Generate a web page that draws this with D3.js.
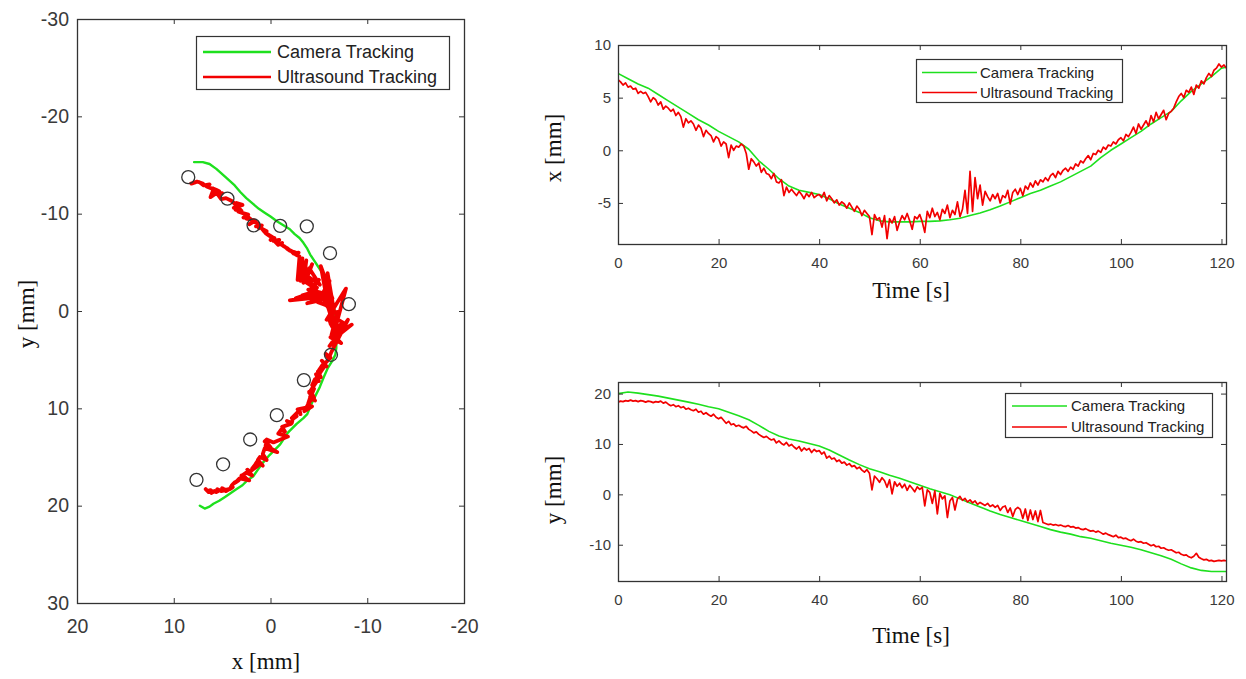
<!DOCTYPE html>
<html>
<head>
<meta charset="utf-8">
<script src="https://cdn.jsdelivr.net/npm/d3@7"></script>
<style>
  body { margin: 0; background: #fff; }
  svg { display: block; }
</style>
</head>
<body>
<svg id="chart" width="1246" height="679"></svg>
<script>
// sample times [s]
const camTime = [0, 2, 4, 6, 8, 10, 12, 14, 16, 18,
  20, 22, 24, 26, 28, 30, 32, 34, 36, 38,
  40, 42, 44, 46, 48, 50, 52, 54, 56, 58,
  60, 62, 64, 66, 68, 70, 72, 74, 76, 78,
  80, 82, 84, 86, 88, 90, 92, 94, 96, 98,
  100, 102, 104, 106, 108, 110, 112, 114, 116, 118,
  120, 121];
const usTime = [0, 0.5, 1, 1.5, 2, 2.5, 3, 3.5, 4, 4.5,
  5, 5.5, 6, 6.5, 7, 7.5, 8, 8.5, 9, 9.5,
  10, 10.5, 11, 11.5, 12, 12.5, 13, 13.5, 14, 14.5,
  15, 15.5, 16, 16.5, 17, 17.5, 18, 18.5, 19, 19.5,
  20, 20.5, 21, 21.5, 22, 22.5, 23, 23.5, 24, 24.5,
  25, 25.5, 26, 26.5, 27, 27.5, 28, 28.5, 29, 29.5,
  30, 30.5, 31, 31.5, 32, 32.5, 33, 33.5, 34, 34.5,
  35, 35.5, 36, 36.5, 37, 37.5, 38, 38.5, 39, 39.5,
  40, 40.5, 41, 41.5, 42, 42.5, 43, 43.5, 44, 44.5,
  45, 45.5, 46, 46.5, 47, 47.5, 48, 48.5, 49, 49.5,
  50, 50.5, 51, 51.5, 52, 52.5, 53, 53.5, 54, 54.5,
  55, 55.5, 56, 56.5, 57, 57.5, 58, 58.5, 59, 59.5,
  60, 60.5, 61, 61.5, 62, 62.5, 63, 63.5, 64, 64.5,
  65, 65.5, 66, 66.5, 67, 67.5, 68, 68.5, 69, 69.5,
  70, 70.5, 71, 71.5, 72, 72.5, 73, 73.5, 74, 74.5,
  75, 75.5, 76, 76.5, 77, 77.5, 78, 78.5, 79, 79.5,
  80, 80.5, 81, 81.5, 82, 82.5, 83, 83.5, 84, 84.5,
  85, 85.5, 86, 86.5, 87, 87.5, 88, 88.5, 89, 89.5,
  90, 90.5, 91, 91.5, 92, 92.5, 93, 93.5, 94, 94.5,
  95, 95.5, 96, 96.5, 97, 97.5, 98, 98.5, 99, 99.5,
  100, 100.5, 101, 101.5, 102, 102.5, 103, 103.5, 104, 104.5,
  105, 105.5, 106, 106.5, 107, 107.5, 108, 108.5, 109, 109.5,
  110, 110.5, 111, 111.5, 112, 112.5, 113, 113.5, 114, 114.5,
  115, 115.5, 116, 116.5, 117, 117.5, 118, 118.5, 119, 119.5,
  120, 120.5, 121];

// camera tracking [mm]
const camX = [7.3, 6.8, 6.3, 5.9, 5.3, 4.7, 4.1, 3.5, 2.9, 2.4,
  1.8, 1.3, 0.8, 0.1, -1.0, -1.8, -2.7, -3.4, -3.8, -4.0,
  -4.2, -4.6, -5.1, -5.5, -5.9, -6.4, -6.7, -6.8, -6.8, -6.8,
  -6.75, -6.75, -6.7, -6.6, -6.45, -6.2, -5.95, -5.65, -5.3, -4.9,
  -4.5, -4.1, -3.8, -3.4, -3.0, -2.5, -2.0, -1.5, -0.7, 0.0,
  0.6, 1.2, 1.8, 2.5, 3.1, 3.7, 4.7, 5.6, 6.3, 7.0,
  7.8, 7.9];
const camY = [20.0, 20.3, 20.1, 19.8, 19.5, 19.1, 18.7, 18.3, 17.9, 17.4,
  17.0, 16.3, 15.6, 14.8, 13.7, 12.5, 11.6, 11.0, 10.6, 10.1,
  9.6, 8.8, 7.8, 6.8, 5.9, 5.1, 4.5, 3.8, 3.2, 2.5,
  1.8, 1.1, 0.5, -0.1, -0.9, -1.7, -2.5, -3.3, -4.0, -4.6,
  -5.2, -5.8, -6.4, -7.0, -7.5, -7.9, -8.4, -8.7, -9.2, -9.7,
  -10.1, -10.5, -11.0, -11.6, -12.2, -12.9, -13.8, -14.6, -15.1, -15.3,
  -15.3, -15.3];

// ultrasound tracking [mm]
const usX = [6.7, 6.5, 6.2, 6.4, 6.0, 6.1, 5.8, 5.9, 5.4, 5.6,
  5.4, 5.5, 5.1, 4.6, 5.0, 4.8, 4.3, 4.6, 3.9, 4.2,
  4.0, 3.7, 3.9, 3.3, 3.6, 3.2, 2.2, 3.0, 2.6, 2.8,
  2.5, 1.9, 2.4, 2.1, 1.3, 1.9, 1.6, 1.4, 0.8, 1.3,
  1.1, 0.4, 0.8, 0.6, -0.7, 0.5, 0.0, 0.4, 0.3, 0.6,
  0.4, -0.3, -1.8, -0.8, -1.1, -1.5, -1.2, -2.1, -1.7, -2.2,
  -2.3, -2.7, -2.2, -3.0, -3.1, -2.8, -4.3, -3.5, -4.0, -3.7,
  -4.0, -4.3, -3.9, -4.2, -4.6, -4.1, -4.4, -4.0, -4.5, -4.3,
  -4.2, -4.5, -4.0, -4.8, -4.3, -4.6, -5.0, -4.7, -5.2, -4.9,
  -5.1, -5.5, -5.0, -5.4, -5.8, -5.3, -5.6, -6.2, -5.7, -6.0,
  -6.3, -8.0, -6.1, -6.6, -6.4, -7.3, -6.2, -8.4, -6.5, -6.9,
  -6.3, -7.6, -6.8, -6.2, -6.6, -6.0, -6.7, -7.5, -6.3, -6.5,
  -6.1, -6.8, -7.8, -5.8, -6.4, -5.5, -6.3, -5.9, -6.6, -5.6,
  -6.0, -5.2, -6.4, -5.7, -6.1, -4.9, -6.3, -5.6, -3.8, -6.0,
  -2.0, -5.8, -2.6, -4.6, -3.3, -5.2, -3.9, -4.4, -4.8, -4.2,
  -4.6, -4.1, -5.0, -4.3, -4.5, -3.8, -5.1, -4.0, -3.7, -4.2,
  -3.6, -4.3, -3.4, -3.7, -3.1, -3.5, -2.9, -3.3, -2.8, -3.0,
  -2.6, -2.9, -2.4, -2.2, -2.6, -2.0, -2.3, -1.9, -1.7, -2.0,
  -1.6, -1.8, -1.3, -1.5, -1.0, -1.2, -0.8, -0.5, -0.9, -0.3,
  -0.4, 0.0, -0.2, 0.3, 0.1, 0.5, 0.4, 0.8, 0.6, 1.0,
  1.2, 0.9, 1.5, 1.3, 1.7, 2.2, 1.6, 2.5, 2.0, 2.4,
  2.8, 2.3, 3.3, 2.7, 3.6, 3.0, 3.4, 3.8, 2.9, 3.5,
  3.7, 4.0, 4.6, 5.1, 5.4, 5.0, 5.7, 5.5, 6.0, 5.3,
  6.2, 5.9, 6.6, 6.3, 6.9, 7.3, 7.0, 7.6, 7.8, 8.2,
  7.9, 8.1, 7.8];
const usY = [18.3, 18.5, 18.4, 18.6, 18.5, 18.7, 18.5, 18.6, 18.4, 18.6,
  18.5, 18.3, 18.5, 18.4, 18.2, 18.4, 18.3, 18.5, 18.1, 18.3,
  17.9, 17.6, 17.8, 17.4, 17.6, 17.2, 17.4, 16.9, 17.1, 16.8,
  16.6, 16.9, 16.3, 16.5, 15.9, 16.2, 15.8, 15.5, 15.9, 15.3,
  15.0, 15.3, 14.7, 14.1, 14.5, 13.8, 14.0, 13.5, 13.7, 13.4,
  13.2, 13.5, 12.9, 12.6, 12.2, 12.4, 11.9, 11.6, 11.3, 11.5,
  11.1, 10.8, 11.0, 10.2, 10.6, 10.1, 9.8, 10.3, 9.6, 9.9,
  9.4, 9.0, 9.5, 8.6, 9.2, 8.8, 9.1, 8.3, 8.9, 8.5,
  8.7, 8.0, 8.4, 7.2, 7.6, 7.0, 7.2, 6.5, 6.8, 6.2,
  6.4, 5.8, 6.1, 5.5, 5.7, 5.1, 5.4, 4.8, 4.4, 4.9,
  4.2, 0.9, 3.6, 3.1, 2.4, 3.3, 2.7, 1.4, 2.9, 0.1,
  2.5, 1.6, 2.2, 1.3, 2.0, 0.8, 1.8, 1.2, 0.5, 1.5,
  1.0, 1.4, -2.3, 0.9, 0.4, -1.8, 0.7, -3.9, 0.2, -0.9,
  -0.3, -4.6, -1.3, -0.6, -3.1, -0.9, -0.4, -1.2, -0.8, -1.5,
  -1.1, -1.7, -1.3, -2.0, -1.6, -1.9, -2.2, -1.8, -2.4, -2.1,
  -2.6, -2.2, -3.2, -2.5, -2.3, -3.6, -2.7, -4.4, -3.0, -2.6,
  -3.0, -4.8, -2.9, -5.2, -3.1, -5.0, -3.3, -5.4, -3.2, -5.6,
  -5.8, -6.0, -5.9, -6.1, -6.0, -6.2, -6.1, -6.3, -6.4, -6.2,
  -6.5, -6.4, -6.7, -6.6, -6.9, -7.0, -6.8, -7.1, -7.3, -7.2,
  -7.5, -7.3, -7.6, -7.9, -7.7, -8.0, -8.2, -8.4, -8.1, -8.6,
  -8.5, -8.8, -8.7, -9.0, -9.2, -8.9, -9.3, -9.5, -9.4, -9.7,
  -9.6, -9.9, -10.2, -10.0, -10.4, -10.3, -10.7, -10.6, -10.9, -11.1,
  -11.0, -11.3, -11.6, -11.5, -11.9, -12.1, -12.0, -12.4, -12.6, -12.3,
  -11.7, -12.5, -12.8, -13.0, -12.9, -13.2, -13.1, -13.3, -13.2, -13.1,
  -13.2, -13.1, -13.2];

// target markers on the x-y map [mm]
const targetX = [8.5, 4.45, 1.75, -1.0, -3.75, -6.15, -8.1, -6.25, -3.45, -0.65, 2.1, 4.9, 7.65];
const targetY = [-13.75, -11.55, -8.8, -8.75, -8.7, -5.95, -0.7, 4.5, 7.1, 10.7, 13.2, 15.75, 17.35];

const legendLabels = ["Camera Tracking", "Ultrasound Tracking"];
const mapXTicks = [20, 10, 0, -10, -20];
const mapYTicks = [-30, -20, -10, 0, 10, 20, 30];
const timeTicks = [0, 20, 40, 60, 80, 100, 120];
const xTimeTicks = [-5, 0, 5, 10];
const yTimeTicks = [-10, 0, 10, 20];

const GREEN = "#1ee01e", RED = "#f20000", AXIS = "#333";
const SANS = "'Liberation Sans', Arial, sans-serif";
const SERIF = "'Liberation Serif', 'Times New Roman', serif";

const svg = d3.select("#chart");
svg.append("rect").attr("width", 1246).attr("height", 679).attr("fill", "#fff");

// box with inward ticks on all four sides, labels on bottom and left
function drawAxes(x, y, xTicks, yTicks, font, padBottom, padLeft) {
    const [left, right] = d3.extent(x.range());
    const [top, bottom] = d3.extent(y.range());
    const g = svg.append("g");
    const axes = [
        [d3.axisBottom(x).tickValues(xTicks), "translate(0," + bottom + ")", true, padBottom],
        [d3.axisTop(x).tickValues(xTicks), "translate(0," + top + ")", false, 0],
        [d3.axisLeft(y).tickValues(yTicks), "translate(" + left + ",0)", true, padLeft],
        [d3.axisRight(y).tickValues(yTicks), "translate(" + right + ",0)", false, 0]
    ];
    axes.forEach(([ax, tr, labels, pad]) => {
        ax.tickSizeInner(-5).tickSizeOuter(0).tickPadding(pad)
            .tickFormat(labels ? (d => String(d)) : (() => ""));
        const a = g.append("g").attr("transform", tr).call(ax);
        a.select(".domain").remove();
        a.attr("font-size", font).attr("font-family", SANS).style("color", AXIS);
        a.selectAll("text").attr("fill", "#3a3a3a");
    });
    g.append("rect")
        .attr("x", left + 0.5).attr("y", top + 0.5)
        .attr("width", right - left).attr("height", bottom - top)
        .attr("fill", "none").attr("stroke", AXIS).attr("stroke-width", 1.3);
    return g;
}

function clip(id, x, y) {
    const [left, right] = d3.extent(x.range());
    const [top, bottom] = d3.extent(y.range());
    svg.append("clipPath").attr("id", id).append("rect")
        .attr("x", left).attr("y", top).attr("width", right - left).attr("height", bottom - top);
    return svg.append("g").attr("clip-path", "url(#" + id + ")");
}

function drawLegend(bx, by, bw, bh, lx0, lx1, tx, rows, font, lw) {
    const g = svg.append("g");
    g.append("rect").attr("x", bx + 0.5).attr("y", by + 0.5).attr("width", bw).attr("height", bh)
        .attr("fill", "#fff").attr("stroke", AXIS).attr("stroke-width", 1.2);
    legendLabels.forEach((lab, i) => {
        g.append("line").attr("x1", lx0).attr("x2", lx1).attr("y1", rows[i]).attr("y2", rows[i])
            .attr("stroke", [GREEN, RED][i]).attr("stroke-width", lw);
        g.append("text").attr("x", tx).attr("y", rows[i]).attr("dy", "0.36em")
            .attr("font-family", SANS).attr("font-size", font).attr("fill", "#222").text(lab);
    });
}

function label(text, x, y, rotate) {
    svg.append("text")
        .attr("transform", "translate(" + x + "," + y + ")" + (rotate ? " rotate(-90)" : ""))
        .attr("text-anchor", "middle").attr("dy", rotate ? "0.35em" : 0)
        .attr("font-family", SERIF).attr("font-size", 23).attr("fill", "#111")
        .text(text);
}

function path(g, xs, ys, sx, sy, color, width) {
    g.append("path").datum(d3.zip(xs, ys))
        .attr("fill", "none").attr("stroke", color).attr("stroke-width", width)
        .attr("stroke-linejoin", "round").attr("stroke-linecap", "round")
        .attr("d", d3.line().x(d => sx(d[0])).y(d => sy(d[1])));
}

// ---- left: x-y map ----
const mx = d3.scaleLinear().domain([20, -20]).range([77, 464]);
const my = d3.scaleLinear().domain([-30, 30]).range([19, 603]);
const mapG = clip("clipMap", mx, my);
path(mapG, camX, camY, mx, my, GREEN, 2.4);
path(mapG, usX, usY, mx, my, RED, 3.8);
mapG.selectAll("circle.target").data(d3.zip(targetX, targetY)).enter().append("circle")
    .attr("class", "target")
    .attr("cx", d => mx(d[0])).attr("cy", d => my(d[1])).attr("r", 6.5)
    .attr("fill", "none").attr("stroke", "#333").attr("stroke-width", 1.3);
drawAxes(mx, my, mapXTicks, mapYTicks, 19.5, 16, 8);
drawLegend(196, 36, 253, 53, 203, 271, 277, [52, 77], 18, 2.4);
label("x [mm]", 266, 669, false);
label("y [mm]", 26, 314, true);

// ---- top right: x over time ----
const tx = d3.scaleLinear().domain([0, 120.9]).range([618, 1226]);
const txy = d3.scaleLinear().domain([-8.9, 10]).range([244, 45]);
const topG = clip("clipTop", tx, txy);
path(topG, camTime, camX, tx, txy, GREEN, 1.6);
path(topG, usTime, usX, tx, txy, RED, 1.7);
drawAxes(tx, txy, timeTicks, xTimeTicks, 15, 13, 7);
drawLegend(916, 59, 206, 43, 922, 977, 980, [72.5, 92.5], 15, 1.6);
label("Time [s]", 911, 298, false);
label("x [mm]", 553, 148, true);

// ---- bottom right: y over time ----
const by = d3.scaleLinear().domain([-17.2, 22.3]).range([581, 382]);
const botG = clip("clipBot", tx, by);
path(botG, camTime, camY, tx, by, GREEN, 1.6);
path(botG, usTime, usY, tx, by, RED, 1.7);
drawAxes(tx, by, timeTicks, yTimeTicks, 15, 13.5, 7);
drawLegend(1005, 393, 207, 44, 1012, 1067, 1071, [406, 427], 15, 1.6);
label("Time [s]", 911, 643, false);
label("y [mm]", 553, 490, true);
</script>
</body>
</html>
